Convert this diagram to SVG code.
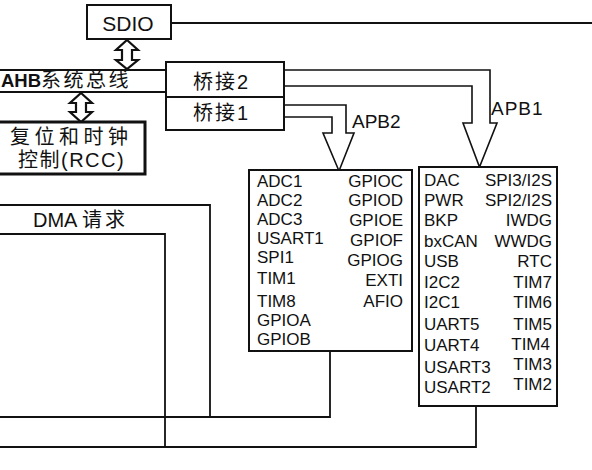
<svg xmlns="http://www.w3.org/2000/svg" width="592" height="470" viewBox="0 0 592 470">
<style>
text{font-family:"Liberation Sans","Noto Sans CJK SC",sans-serif;fill:#111}
.box{fill:#fff;stroke:#111;stroke-width:2}
.ln{fill:none;stroke:#111;stroke-width:1.8}
.arr{fill:#fff;stroke:#111;stroke-width:1.6;stroke-linejoin:miter}
.dbl{fill:#fff;stroke:#111;stroke-width:2.2}
.t{font-size:17px}
.r{text-anchor:end}
</style>
<rect width="592" height="470" fill="#fff"/>
<g id="connectors">
<path class="ln" d="M171 23H592"/>
<path class="ln" d="M0 70H166M0 92H166"/>
<path class="ln" d="M0 205H210V417M0 234H165V448M0 417H330V351M0 447H476V406"/>
<path class="arr" d="M284 70H490V123H497L479.5 167L463 123H472V86H284"/>
<path class="arr" d="M284 105H346V133H354L339 171L323 133H332V117H284"/>
<path class="dbl" d="M127 40L138 50H132V60H138L127 69L116 60H122V50H116Z"/>
<path class="dbl" d="M81 93L92 103H86V112H92L81 122L70 112H76V103H70Z"/>
</g>
<g id="sdio">
<rect class="box" x="87" y="5" width="84" height="34"/>
<text x="128" y="31" font-size="21" text-anchor="middle">SDIO</text>
</g>
<g id="ahb">
<text x="1" y="87" font-size="18.5"><tspan font-weight="bold">AHB</tspan><tspan font-size="20" letter-spacing="2.5">系统总线</tspan></text>
</g>
<g id="bridge2">
<rect class="box" x="166" y="62" width="118" height="35"/>
<text x="193" y="89" font-size="20" letter-spacing="2">桥接2</text>
</g>
<g id="bridge1">
<rect class="box" x="166" y="97" width="118" height="33"/>
<text x="193" y="120" font-size="20" letter-spacing="2">桥接1</text>
</g>
<g id="rcc">
<rect x="-5" y="122" width="150" height="52" fill="#fff" stroke="#111" stroke-width="3"/>
<text x="10" y="144" font-size="20" letter-spacing="4.5">复位和时钟</text>
<text x="18" y="167" font-size="20" letter-spacing="1.5">控制(RCC)</text>
</g>
<g id="labels">
<text x="352" y="128" font-size="19">APB2</text>
<text x="491" y="115" font-size="19" letter-spacing="1">APB1</text>
<text x="33" y="227" font-size="20">DMA <tspan letter-spacing="3">请求</tspan></text>
</g>
<g id="apb2-periph">
<rect class="box" x="249" y="170" width="163" height="181" stroke-width="1.8"/>
<text class="t" x="257" y="187">ADC1</text>
<text class="t" x="257" y="206">ADC2</text>
<text class="t" x="257" y="225">ADC3</text>
<text class="t" x="257" y="244">USART1</text>
<text class="t" x="257" y="263">SPI1</text>
<text class="t" x="257" y="284">TIM1</text>
<text class="t" x="257" y="307">TIM8</text>
<text class="t" x="257" y="326">GPIOA</text>
<text class="t" x="257" y="345">GPIOB</text>
<text class="t r" x="403" y="187">GPIOC</text>
<text class="t r" x="403" y="206">GPIOD</text>
<text class="t r" x="403" y="226">GPIOE</text>
<text class="t r" x="403" y="246">GPIOF</text>
<text class="t r" x="403" y="266">GPIOG</text>
<text class="t r" x="403" y="286">EXTI</text>
<text class="t r" x="403" y="307">AFIO</text>
</g>
<g id="apb1-periph">
<rect class="box" x="419" y="167" width="138" height="239" stroke-width="1.8"/>
<text class="t" x="424" y="186">DAC</text>
<text class="t" x="424" y="206">PWR</text>
<text class="t" x="424" y="226">BKP</text>
<text class="t" x="424" y="247">bxCAN</text>
<text class="t" x="424" y="267">USB</text>
<text class="t" x="424" y="288">I2C2</text>
<text class="t" x="424" y="308">I2C1</text>
<text class="t" x="424" y="330">UART5</text>
<text class="t" x="424" y="351">UART4</text>
<text class="t" x="424" y="373">USART3</text>
<text class="t" x="424" y="393">USART2</text>
<text class="t r" x="552" y="186">SPI3/I2S</text>
<text class="t r" x="552" y="206">SPI2/I2S</text>
<text class="t r" x="552" y="226">IWDG</text>
<text class="t r" x="552" y="247">WWDG</text>
<text class="t r" x="552" y="267">RTC</text>
<text class="t r" x="552" y="288">TIM7</text>
<text class="t r" x="552" y="308">TIM6</text>
<text class="t r" x="552" y="330">TIM5</text>
<text class="t r" x="550" y="350">TIM4</text>
<text class="t r" x="552" y="370">TIM3</text>
<text class="t r" x="552" y="390">TIM2</text>
</g>
</svg>
